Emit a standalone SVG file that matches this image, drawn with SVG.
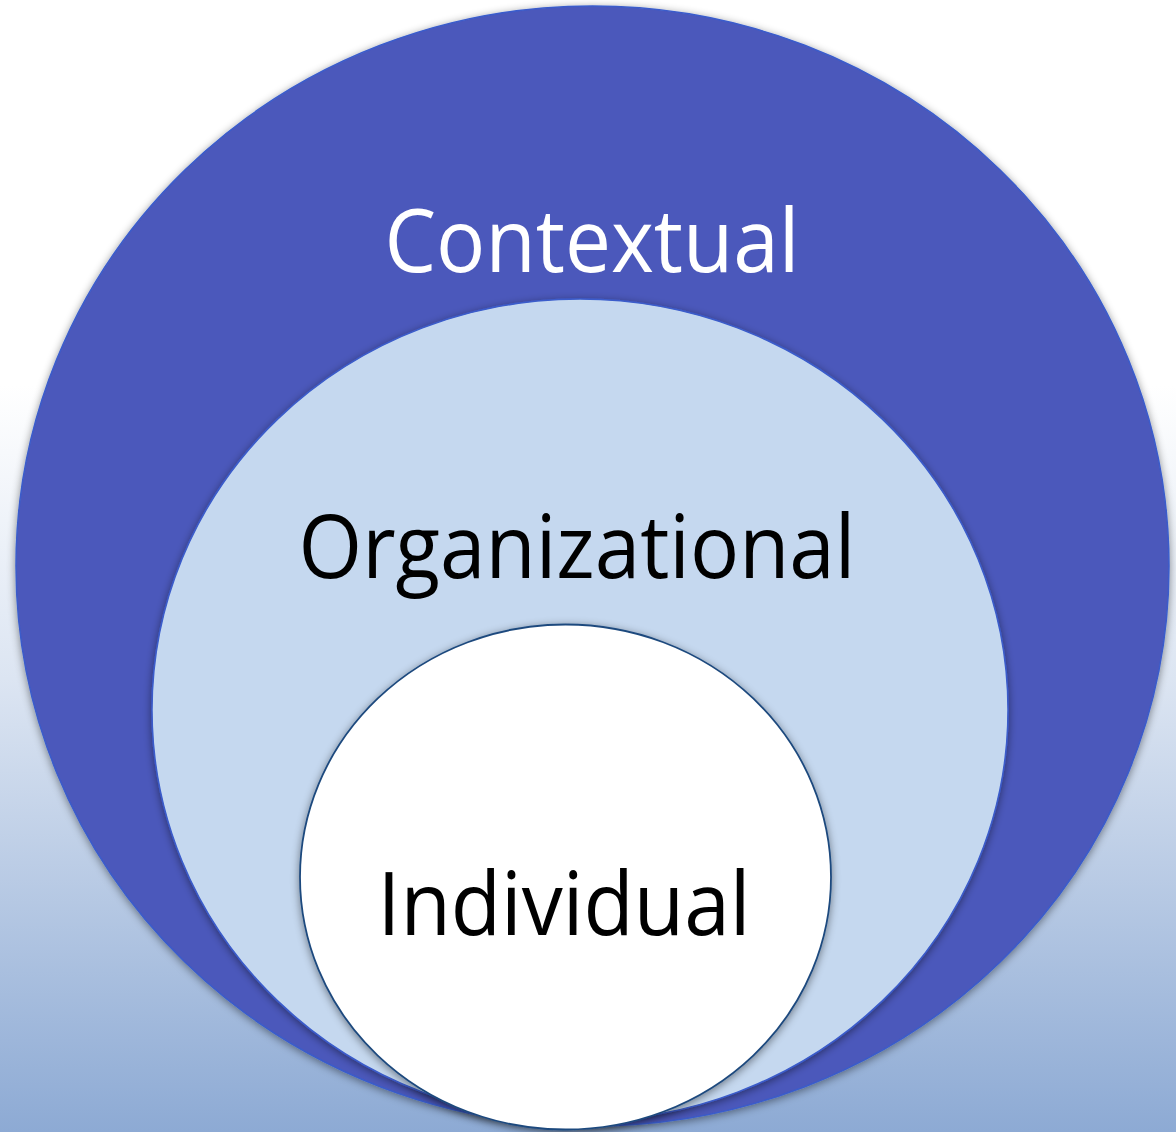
<svg xmlns="http://www.w3.org/2000/svg" width="1176" height="1132" viewBox="0 0 1176 1132">
  <defs>
    <linearGradient id="bg" x1="0" y1="0" x2="0" y2="1">
      <stop offset="0" stop-color="#FFFFFF"/>
      <stop offset="0.34" stop-color="#FFFFFF"/>
      <stop offset="0.6" stop-color="#DCE5F2"/>
      <stop offset="1" stop-color="#8DAAD4"/>
    </linearGradient>
    <filter id="shadow" x="-10%" y="-10%" width="120%" height="120%">
      <feDropShadow dx="0" dy="2" stdDeviation="4" flood-color="#000000" flood-opacity="0.45"/>
    </filter>
    <style>
      .lbl { font-family: "Open Sans", "Noto Sans", "Liberation Sans", sans-serif; font-size: 88px; text-anchor: middle; }
      .outer { fill: #4B58BB; stroke: #3A5CCB; stroke-width: 1.5; filter: url(#shadow); }
      .middle { fill: #C5D8EF; stroke: #3A5CCB; stroke-width: 1.5; filter: url(#shadow); }
      .inner { fill: #FFFFFF; stroke: #1F4A7E; stroke-width: 1.8; filter: url(#shadow); }
    </style>
  </defs>
  <rect x="0" y="0" width="1176" height="1132" fill="url(#bg)"/>
  <g id="contextual">
    <ellipse class="outer" cx="592.5" cy="566" rx="576.5" ry="560"/>
    <text class="lbl" x="592" y="272" fill="#FFFFFF" textLength="415" lengthAdjust="spacingAndGlyphs">Contextual</text>
  </g>
  <g id="organizational">
    <ellipse class="middle" cx="580" cy="710" rx="428" ry="411"/>
    <text class="lbl" x="577" y="578" fill="#000000" textLength="557" lengthAdjust="spacingAndGlyphs">Organizational</text>
  </g>
  <g id="individual">
    <ellipse class="inner" cx="565.5" cy="877" rx="265.5" ry="252.5"/>
    <text class="lbl" x="564" y="935" fill="#000000" textLength="373" lengthAdjust="spacingAndGlyphs">Individual</text>
  </g>
  <g id="connectors"/>
</svg>
